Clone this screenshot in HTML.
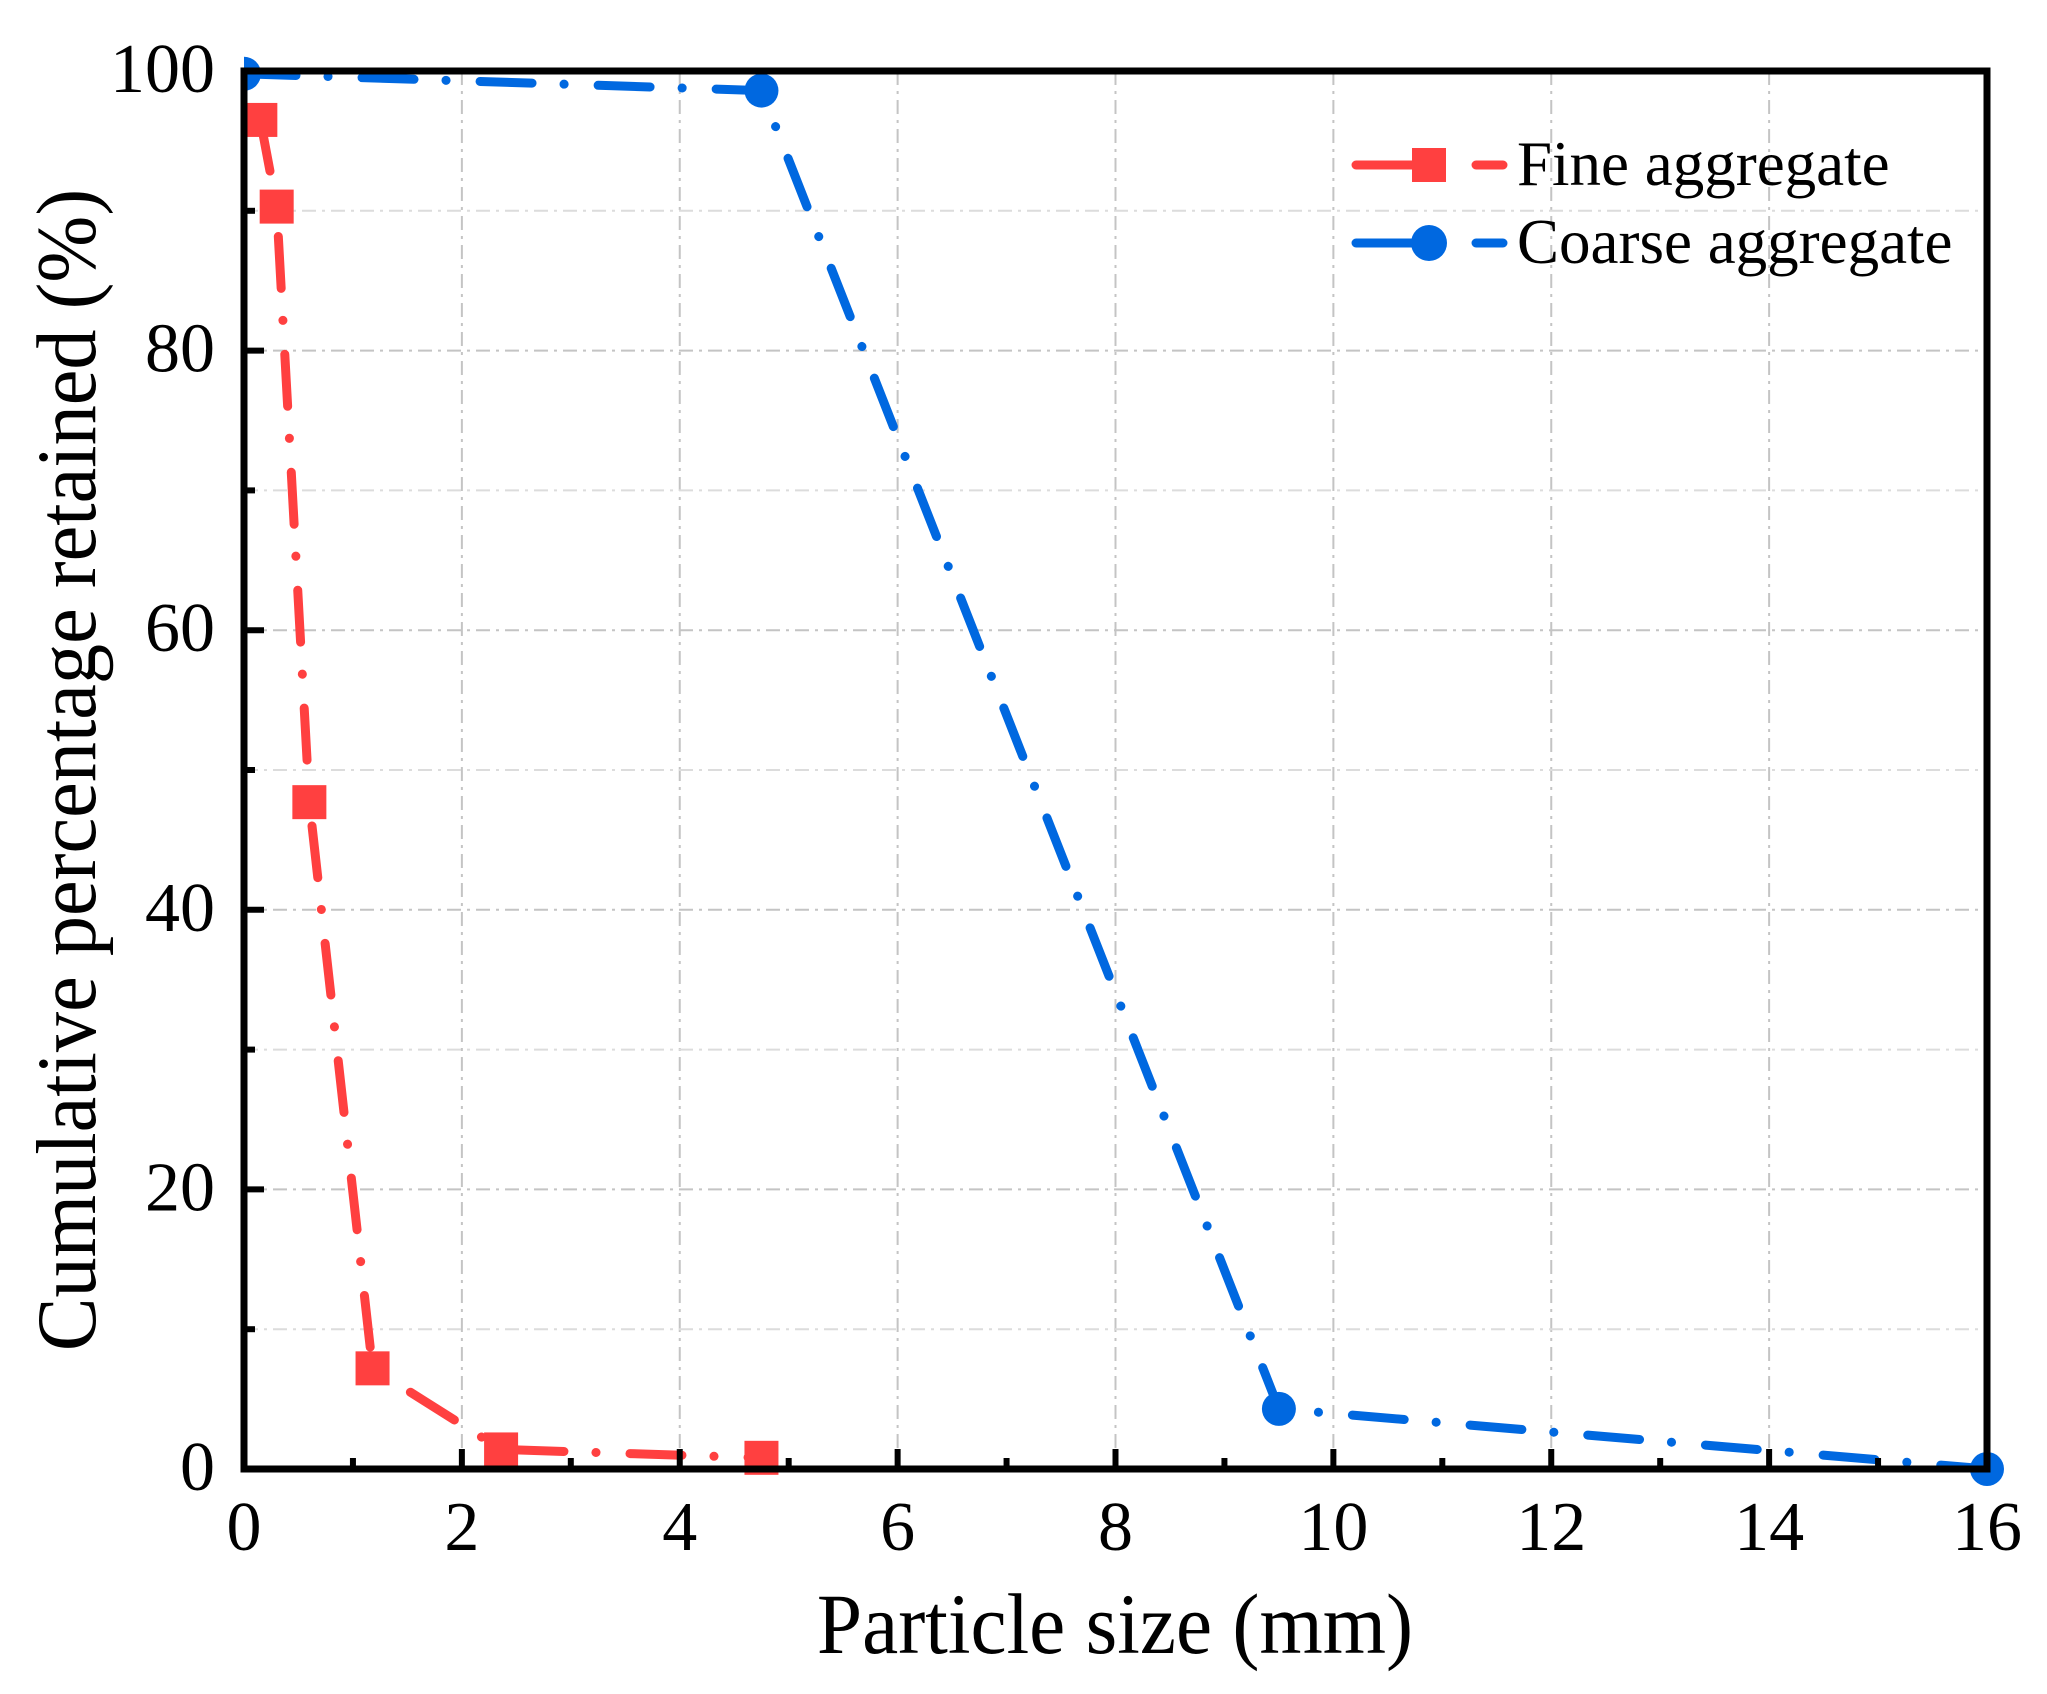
<!DOCTYPE html>
<html><head><meta charset="utf-8"><style>
html,body{margin:0;padding:0;background:#fff;}
svg{display:block;font-family:"Liberation Serif","Times New Roman",serif;}
</style></head><body>
<svg id="chart" width="2047" height="1694" viewBox="0 0 2047 1694" xmlns="http://www.w3.org/2000/svg">
<g id="grid"></g>
<g id="series"></g>
<g id="axes"></g>
<text x="1115" y="1653" font-size="83" text-anchor="middle" transform="translate(1115,1653) scale(0.98,1.04) translate(-1115,-1653)">Particle size (mm)</text>
<text transform="translate(95,770) rotate(-90) scale(0.98,1.04)" font-size="82" text-anchor="middle">Cumulative percentage retained (%)</text>
<g>
 <g>
  <line x1="1356" y1="165" x2="1503" y2="165" stroke="#ff4040" stroke-width="9" stroke-linecap="round" stroke-dasharray="56 64 28 0"/>
  <rect x="1412" y="148" width="34" height="34" fill="#ff4040"/>
  <text x="1517" y="185" font-size="63">Fine aggregate</text>
 </g>
 <g>
  <line x1="1356" y1="243" x2="1503" y2="243" stroke="#0068e0" stroke-width="9" stroke-linecap="round" stroke-dasharray="56 64 28 0"/>
  <circle cx="1429" cy="243" r="18" fill="#0068e0"/>
  <text x="1517" y="263" font-size="63">Coarse aggregate</text>
 </g>
</g>
</svg>
<script>
const xTicks = [0, 2, 4, 6, 8, 10, 12, 14, 16];
const yTicks = [0, 20, 40, 60, 80, 100];
const fineX = [0.15, 0.3, 0.6, 1.18, 2.36, 4.75];
const fineY = [96.5, 90.3, 47.7, 7.2, 1.4, 0.8];
const coarseX = [0.0, 4.75, 9.5, 16];
const coarseY = [99.8, 98.6, 4.3, 0];

const L = 244, R = 1987, T = 71, B = 1469;
const xs = v => L + (v - 0) / 16 * (R - L);
const ys = v => B - (v - 0) / 100 * (B - T);
const NS = 'http://www.w3.org/2000/svg';
function mk(tag, attrs, parent) {
  const e = document.createElementNS(NS, tag);
  for (const k in attrs) e.setAttribute(k, attrs[k]);
  parent.appendChild(e);
  return e;
}
const grid = document.getElementById('grid');
const axes = document.getElementById('axes');
const series = document.getElementById('series');

for (let i = 1; i < xTicks.length - 1; i++) {
  const g = mk('line', {x1: xs(xTicks[i]), x2: xs(xTicks[i]), y1: T, y2: B, stroke: '#c4c4c4', 'stroke-width': 2, 'stroke-dasharray': '14 6 3 6'}, grid);
  
  
}
for (let v = 10; v < 100; v += 10) {
  const major = v % 20 === 0;
  const g = mk('line', {x1: L, x2: R, y1: ys(v), y2: ys(v), stroke: major ? '#c4c4c4' : '#dcdcdc', 'stroke-width': 2, 'stroke-dasharray': '14 6 3 6'}, grid);
  
  
}

const clip = mk('clipPath', {id: 'plotclip'}, series);
mk('rect', {x: L, y: T - 20, width: R - L + 20, height: B - T + 40}, clip);
const sg = mk('g', {'clip-path': 'url(#plotclip)'}, series);

function drawSeries(X, Y, color, marker, name) {
  const pts = X.map((x, i) => xs(x) + ',' + ys(Y[i])).join(' ');
  const pl = mk('polyline', {points: pts, fill: 'none', stroke: color, 'stroke-width': 9, 'stroke-linecap': 'round', 'stroke-linejoin': 'round', 'stroke-dasharray': '52 32 0.1 34'}, sg);
  
  
  X.forEach((x, i) => {
    let m;
    if (marker === 'square') m = mk('rect', {x: xs(x) - 17, y: ys(Y[i]) - 17, width: 34, height: 34, fill: color}, sg);
    else m = mk('circle', {cx: xs(x), cy: ys(Y[i]), r: 17, fill: color}, sg);
    
    
  });
}
drawSeries(fineX, fineY, '#ff4040', 'square', 'fine-aggregate');
drawSeries(coarseX, coarseY, '#0068e0', 'circle', 'coarse-aggregate');

for (let i = 0; i < xTicks.length; i++) {
  const x = xs(xTicks[i]);
  const t = mk('line', {x1: x, x2: x, y1: B, y2: B - 20, stroke: '#000', 'stroke-width': 6}, axes);
  
  
  const lb = mk('text', {x: x, y: 1550, 'font-size': 70, 'text-anchor': 'middle'}, axes);
  lb.textContent = xTicks[i];
  
  
  if (i < xTicks.length - 1) {
    const mx = xs((xTicks[i] + xTicks[i + 1]) / 2);
    const mt = mk('line', {x1: mx, x2: mx, y1: B, y2: B - 11, stroke: '#000', 'stroke-width': 6}, axes);
    
    
  }
}
for (let i = 0; i < yTicks.length; i++) {
  const y = ys(yTicks[i]);
  const t = mk('line', {x1: L, x2: L + 20, y1: y, y2: y, stroke: '#000', 'stroke-width': 6}, axes);
  
  
  const lb = mk('text', {x: 215, y: y + 21, 'font-size': 70, 'text-anchor': 'end'}, axes);
  lb.textContent = yTicks[i];
  
  
  if (i < yTicks.length - 1) {
    const my = ys((yTicks[i] + yTicks[i + 1]) / 2);
    const mt = mk('line', {x1: L, x2: L + 11, y1: my, y2: my, stroke: '#000', 'stroke-width': 6}, axes);
    
    
  }
}
const frame = mk('rect', {x: L, y: T, width: R - L, height: B - T, fill: 'none', stroke: '#000', 'stroke-width': 7}, axes);


</script>
</body></html>
